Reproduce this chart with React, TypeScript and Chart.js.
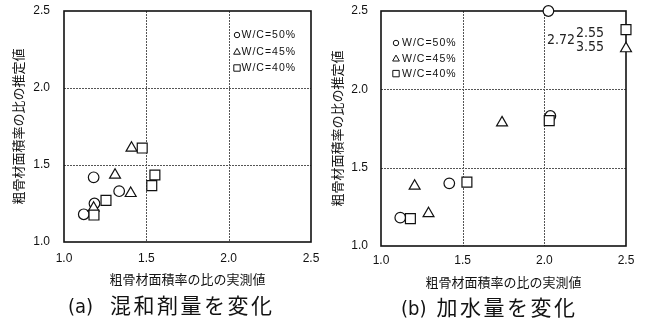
import React, { useEffect, useRef } from "react";
import { Chart, registerables } from "chart.js";

Chart.register(...registerables);

// ---- data -----------------------------------------------------------------
// (a) admixture dosage varied
const aCircleX = [1.18, 1.12, 1.185, 1.335];
const aCircleY = [1.42, 1.18, 1.25, 1.33];
const aTriangleX = [1.41, 1.31, 1.405, 1.18];
const aTriangleY = [1.61, 1.435, 1.316, 1.22];
const aSquareX = [1.475, 1.552, 1.533, 1.255, 1.182];
const aSquareY = [1.61, 1.435, 1.366, 1.27, 1.175];

// (b) water content varied; values beyond 2.5 sit on the frame and are labelled
const bCircleX = [2.025, 2.037, 1.418, 1.118];
const bCircleY = [2.72, 1.83, 1.4, 1.181];
const bTriangleX = [3.55, 1.741, 1.206, 1.291];
const bTriangleY = [2.26, 1.787, 1.383, 1.207];
const bSquareX = [2.55, 2.03, 1.526, 1.18];
const bSquareY = [2.381, 1.8, 1.408, 1.175];

const axisTicks = [1.0, 1.5, 2.0, 2.5];
const seriesLabels = ["W/C=50%", "W/C=45%", "W/C=40%"];
const xTitle = "粗骨材面積率の比の実測値";
const yTitle = "粗骨材面積率の比の推定値";
const captionA = ["(a)", "混和剤量を変化"];
const captionB = ["(b)", "加水量を変化"];

// ---- styling helpers ------------------------------------------------------
const AXIS_MIN = axisTicks[0];
const AXIS_MAX = axisTicks[axisTicks.length - 1];
const LATIN = "'Liberation Sans', Arial, sans-serif";
const NARROW = "'Liberation Sans Narrow', 'DejaVu Sans Condensed', 'Liberation Sans', sans-serif";
const CJK = "'Noto Sans CJK JP', 'Noto Sans CJK SC', sans-serif";

type Shape = "circle" | "triangle" | "rect";
const shapes: Shape[] = ["circle", "triangle", "rect"];
const radii = [5.3, 6.3, 7];

interface OffLabel {
  series: number;
  index: number;
  dx: number;
  dy: number;
  align: CanvasTextAlign;
}

interface Area {
  left: number;
  top: number;
  right: number;
  bottom: number;
}

interface Panel {
  xs: number[][];
  ys: number[][];
  width: number;
  height: number;
  area: Area;
  xTickGap: number;
  yTickGap: number;
  xTitlePad: number;
  yTitlePad: number;
  legendDx: number;
  legendDy: number;
  legendStep: number;
  legendTextGap: number;
  offLabels: OffLabel[];
}

function drawSymbol(ctx: CanvasRenderingContext2D, shape: Shape, x: number, y: number, s: number) {
  ctx.beginPath();
  if (shape === "circle") {
    ctx.arc(x, y, s * 0.85, 0, Math.PI * 2);
  } else if (shape === "triangle") {
    ctx.moveTo(x, y - s);
    ctx.lineTo(x + s * 1.05, y + s * 0.85);
    ctx.lineTo(x - s * 1.05, y + s * 0.85);
    ctx.closePath();
  } else {
    ctx.rect(x - s, y - s, s * 2, s * 2);
  }
  ctx.fillStyle = "#fff";
  ctx.fill();
  ctx.stroke();
}

function makePlugin(panel: Panel) {
  return {
    id: "frameAndNotes",
    beforeDatasetsDraw(chart: any) {
      const { ctx, chartArea: a, scales } = chart;
      ctx.save();
      // dotted inner grid
      ctx.strokeStyle = "#555";
      ctx.lineWidth = 1;
      ctx.setLineDash([2, 1]);
      for (const v of axisTicks.slice(1, -1)) {
        const px = Math.round(scales.x.getPixelForValue(v)) + 0.5;
        ctx.beginPath();
        ctx.moveTo(px, a.top);
        ctx.lineTo(px, a.bottom);
        ctx.stroke();
        const py = Math.round(scales.y.getPixelForValue(v)) + 0.5;
        ctx.beginPath();
        ctx.moveTo(a.left, py);
        ctx.lineTo(a.right, py);
        ctx.stroke();
      }
      // solid frame
      ctx.setLineDash([]);
      ctx.strokeStyle = "#111";
      ctx.lineWidth = 1.6;
      ctx.strokeRect(a.left, a.top, a.right - a.left, a.bottom - a.top);
      ctx.restore();
    },
    afterDatasetsDraw(chart: any) {
      const { ctx, chartArea: a, scales } = chart;
      ctx.save();
      // legend
      ctx.lineWidth = 1;
      ctx.strokeStyle = "#111";
      ctx.font = `10.5px ${LATIN}`;
      (ctx as any).letterSpacing = "1px";
      ctx.textBaseline = "middle";
      ctx.textAlign = "left";
      seriesLabels.forEach((label, i) => {
        const x = a.left + panel.legendDx;
        const y = a.top + panel.legendDy + i * panel.legendStep;
        drawSymbol(ctx, shapes[i], x, y, 3.2);
        ctx.fillStyle = "#111";
        ctx.fillText(label, x + panel.legendTextGap, y + 0.5);
      });
      (ctx as any).letterSpacing = "0px";
      // values of marks that lie beyond the axis range
      ctx.font = `14px ${NARROW}`;
      ctx.fillStyle = "#222";
      for (const o of panel.offLabels) {
        const xv = panel.xs[o.series][o.index];
        const yv = panel.ys[o.series][o.index];
        const px = scales.x.getPixelForValue(Math.min(xv, AXIS_MAX));
        const py = scales.y.getPixelForValue(Math.min(yv, AXIS_MAX));
        const shown = xv > AXIS_MAX ? xv : yv;
        ctx.textAlign = o.align;
        ctx.fillText(shown.toFixed(2), px + o.dx, py + o.dy);
      }
      ctx.restore();
    },
  };
}

function makeConfig(panel: Panel): any {
  const datasets = shapes.map((shape, s) => ({
    label: seriesLabels[s],
    data: panel.xs[s].map((x, i) => ({
      x: Math.min(x, AXIS_MAX),
      y: Math.min(panel.ys[s][i], AXIS_MAX),
    })),
    pointStyle: shape,
    pointRadius: radii[s],
    pointHoverRadius: radii[s],
    pointBorderWidth: 1.2,
    pointBorderColor: "#111",
    pointBackgroundColor: "#fff",
    showLine: false,
    clip: false,
    order: 2 - s,
  }));

  const tickFont = { family: LATIN, size: 12 };
  const titleFont = { family: CJK, size: 13 };
  // tick marks are invisible; their length only spaces the labels off the frame
  const hiddenGrid = (len: number) => ({
    display: true,
    drawOnChartArea: false,
    drawTicks: true,
    tickLength: len,
    tickColor: "rgba(0,0,0,0)",
    color: "rgba(0,0,0,0)",
  });

  return {
    type: "scatter",
    data: { datasets },
    options: {
      responsive: false,
      animation: false,
      devicePixelRatio: 1,
      layout: {
        padding: { left: 0, top: panel.area.top, right: panel.width - panel.area.right, bottom: 0 },
      },
      plugins: { legend: { display: false }, tooltip: { enabled: false } },
      scales: {
        x: {
          type: "linear",
          min: AXIS_MIN,
          max: AXIS_MAX,
          afterBuildTicks: (s: any) => {
            s.ticks = axisTicks.map((v) => ({ value: v }));
          },
          ticks: {
            callback: (v: any) => Number(v).toFixed(1),
            font: tickFont,
            color: "#111",
            padding: 0,
            maxRotation: 0,
          },
          grid: hiddenGrid(panel.xTickGap),
          border: { display: false },
          title: {
            display: true,
            text: xTitle,
            font: titleFont,
            color: "#111",
            padding: { top: 0, bottom: panel.xTitlePad },
          },
          afterFit: (s: any) => {
            s.height = panel.height - panel.area.bottom;
          },
        },
        y: {
          type: "linear",
          min: AXIS_MIN,
          max: AXIS_MAX,
          afterBuildTicks: (s: any) => {
            s.ticks = axisTicks.map((v) => ({ value: v }));
          },
          ticks: {
            callback: (v: any) => Number(v).toFixed(1),
            font: tickFont,
            color: "#111",
            padding: 0,
          },
          grid: hiddenGrid(panel.yTickGap),
          border: { display: false },
          title: {
            display: true,
            text: yTitle,
            font: titleFont,
            color: "#111",
            padding: { top: panel.yTitlePad, bottom: 0 },
          },
          afterFit: (s: any) => {
            s.width = panel.area.left;
          },
        },
      },
    },
    plugins: [makePlugin(panel)],
  };
}

const panelA: Panel = {
  xs: [aCircleX, aTriangleX, aSquareX],
  ys: [aCircleY, aTriangleY, aSquareY],
  width: 320,
  height: 292,
  area: { left: 64, top: 11, right: 311, bottom: 242 },
  xTickGap: 9,
  yTickGap: 14,
  xTitlePad: 5,
  yTitlePad: 10,
  legendDx: 173,
  legendDy: 24,
  legendStep: 16.5,
  legendTextGap: 4.5,
  offLabels: [],
};

const panelB: Panel = {
  xs: [bCircleX, bTriangleX, bSquareX],
  ys: [bCircleY, bTriangleY, bSquareY],
  width: 325,
  height: 292,
  area: { left: 61, top: 11, right: 306, bottom: 246 },
  xTickGap: 7,
  yTickGap: 13,
  xTitlePad: 2,
  yTitlePad: 9,
  legendDx: 15,
  legendDy: 32,
  legendStep: 15.3,
  legendTextGap: 6,
  offLabels: [
    { series: 0, index: 0, dx: -1.5, dy: 29, align: "left" },
    { series: 2, index: 0, dx: -22, dy: 4, align: "right" },
    { series: 1, index: 0, dx: -22, dy: -1, align: "right" },
  ],
};

function ScatterPanel({ panel, left }: { panel: Panel; left: number }) {
  const ref = useRef<HTMLCanvasElement | null>(null);
  useEffect(() => {
    if (!ref.current) return;
    const chart = new Chart(ref.current, makeConfig(panel));
    return () => chart.destroy();
  }, [panel]);
  return (
    <canvas
      ref={ref}
      width={panel.width}
      height={panel.height}
      style={{ position: "absolute", left, top: 0, width: panel.width, height: panel.height }}
    />
  );
}

function Caption({ parts, left, top, gap }: { parts: string[]; left: number; top: number; gap: number }) {
  return (
    <div
      style={{
        position: "absolute",
        left,
        top,
        whiteSpace: "nowrap",
        lineHeight: "22px",
        color: "#111",
      }}
    >
      <span style={{ fontFamily: NARROW, fontSize: 20, marginRight: gap }}>{parts[0]}</span>
      <span style={{ fontFamily: CJK, fontSize: 21, letterSpacing: "2.5px" }}>{parts[1]}</span>
    </div>
  );
}

export default function App() {
  return (
    <div
      style={{
        position: "fixed",
        left: 0,
        top: 0,
        width: 645,
        height: 320,
        background: "#fff",
        overflow: "hidden",
      }}
    >
      <ScatterPanel panel={panelA} left={0} />
      <ScatterPanel panel={panelB} left={320} />
      <Caption parts={captionA} left={68} top={293} gap={17} />
      <Caption parts={captionB} left={401} top={295} gap={10} />
    </div>
  );
}
